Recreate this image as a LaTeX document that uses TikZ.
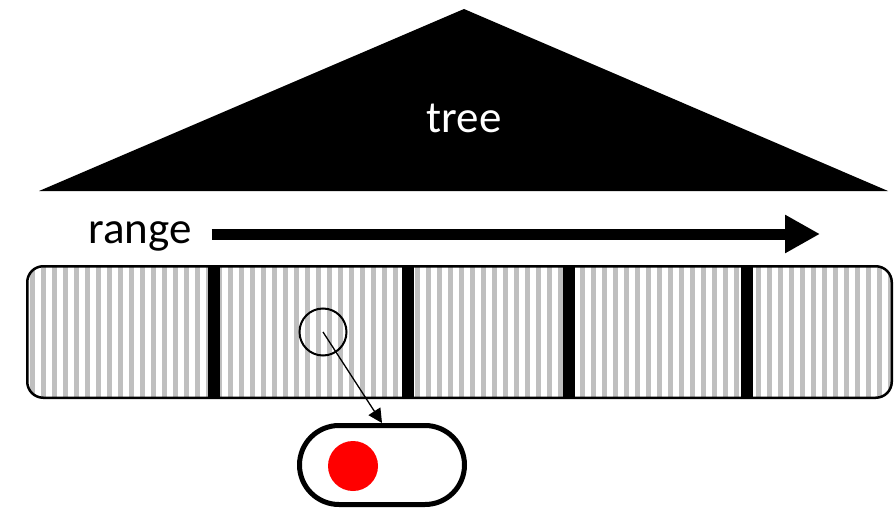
\documentclass[tikz,border=0pt]{standalone}
\usepackage{fontspec}
\setmainfont{Carlito}
\usepackage{tikz}
\usetikzlibrary{arrows.meta}
\definecolor{StripeGray}{RGB}{191,191,191}
\definecolor{DotRed}{RGB}{255,0,0}
\tikzset{
	bigtext/.style={font=\fontsize{45}{54}\selectfont},
	bandbox/.style={rectangle,inner sep=0pt,outer sep=0pt,minimum width=864.5pt,minimum height=131.5pt},
	bandline/.style={draw=black,line width=2.5pt,rounded corners=16pt},
	stripe/.style={fill=StripeGray},
	sep/.style={fill=black},
	lens/.style={circle,draw=black,line width=2pt,minimum size=47pt,inner sep=0pt},
	pill/.style={rectangle,draw=black,line width=5pt,rounded corners=39.5pt,minimum width=165pt,minimum height=79pt,inner sep=0pt},
	dot/.style={circle,fill=DotRed,minimum size=50pt,inner sep=0pt},
	rangearrow/.style={line width=11pt,-{Triangle[length=35pt,width=36pt]}},
	link/.style={line width=1.3pt,-{Triangle[length=14pt,width=14pt]}},
}

\begin{document}
\begin{tikzpicture}[x=1pt,y=-1pt]
	\useasboundingbox (0,0) rectangle (894,508);
	% tree
	\coordinate (apex) at (464,9);
	\coordinate (baseL) at (39,191);
	\coordinate (baseR) at (888,191);
	\fill[black] (baseL) -- (apex) -- (baseR) -- cycle;
	\node[bigtext,text=white] (treelabel) at (464,118) {tree};
	% range
	\node[bigtext,anchor=base west,inner xsep=20pt] (range) at (68,243) {range};
	\coordinate (rangeend) at (820,234);
	\draw[rangearrow] (range.east |- rangeend) -- (rangeend);
	% leaf band
	\node[bandbox] (band) at (459.5,332) {};
	\begin{scope}
		\clip[rounded corners=16pt] (band.north west) rectangle (band.south east);
		\foreach \k in {0,...,78}
			\fill[stripe] (29.5+11*\k,260) rectangle +(5,145);
		\foreach \bx in {214,408,569,747}
			\fill[sep] (\bx-6,260) rectangle (\bx+6,405);
	\end{scope}
	\draw[bandline] (band.north west) rectangle (band.south east);
	% zoom into one entry
	\node[lens] (lens) at (323,332) {};
	\node[pill] (pill) at (382,465) {};
	\node[dot] (dot) at (353,466) {};
	\draw[link] (lens.center) -- (pill.north);
\end{tikzpicture}
\end{document}
